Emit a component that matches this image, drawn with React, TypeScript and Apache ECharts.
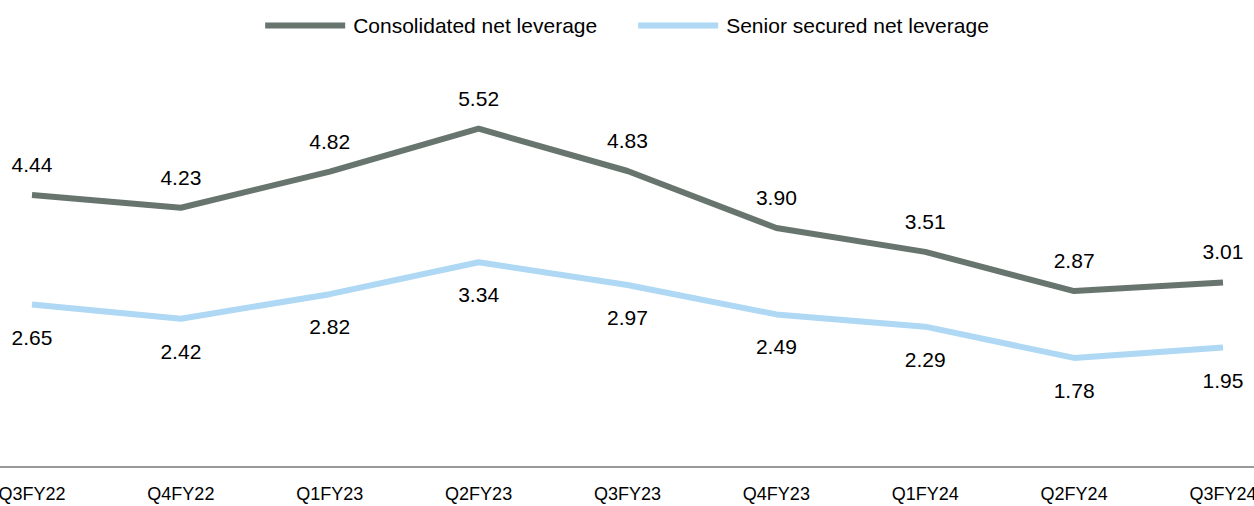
import React, { useEffect, useRef } from "react";
import * as echarts from "echarts";

const categories = ["Q3FY22", "Q4FY22", "Q1FY23", "Q2FY23", "Q3FY23", "Q4FY23", "Q1FY24", "Q2FY24", "Q3FY24"];
const consolidated = [4.44, 4.23, 4.82, 5.52, 4.83, 3.9, 3.51, 2.87, 3.01];
const seniorSecured = [2.65, 2.42, 2.82, 3.34, 2.97, 2.49, 2.29, 1.78, 1.95];

const FONT = "'Liberation Sans', Arial, sans-serif";

export default function App() {
  const ref = useRef<HTMLDivElement>(null);
  useEffect(() => {
    const chart = echarts.init(ref.current!, null, { renderer: "svg" });
    chart.setOption({
      animation: false,
      textStyle: { fontFamily: FONT },
      legend: {
        top: 10,
        left: "center",
        icon: "rect",
        itemWidth: 80,
        itemHeight: 6,
        itemGap: 41,
        textStyle: { fontSize: 21, color: "#000", fontFamily: FONT, padding: [0, 0, 0, 3] },
        data: ["Consolidated net leverage", "Senior secured net leverage"],
      },
      grid: {
        left: 32,
        right: 31,
        top: 38,
        bottom: 39,
        containLabel: false,
        outerBoundsMode: "none",
      },
      xAxis: {
        type: "category",
        data: categories,
        boundaryGap: false,
        axisLine: { show: false },
        axisTick: { show: false },
        axisLabel: { fontSize: 18, color: "#000", margin: 18, fontFamily: FONT },
      },
      yAxis: {
        type: "value",
        min: 0,
        max: 7,
        show: false,
        splitLine: { show: false },
      },
      graphic: [
        {
          type: "line",
          shape: { x1: 0, y1: 467, x2: 1254, y2: 467 },
          style: { stroke: "#999999", lineWidth: 2 },
        },
      ],
      series: [
        {
          name: "Consolidated net leverage",
          type: "line",
          data: consolidated,
          symbol: "circle",
          symbolSize: 0.1,
          showSymbol: true,
          lineStyle: { color: "#68756f", width: 6 },
          itemStyle: { color: "#68756f" },
          label: {
            show: true,
            position: "top",
            distance: 20,
            fontSize: 21,
            color: "#000",
            fontFamily: FONT,
            formatter: (p: any) => Number(p.value).toFixed(2),
          },
        },
        {
          name: "Senior secured net leverage",
          type: "line",
          data: seniorSecured,
          symbol: "circle",
          symbolSize: 0.1,
          showSymbol: true,
          lineStyle: { color: "#aed8f3", width: 6 },
          itemStyle: { color: "#aed8f3" },
          label: {
            show: true,
            position: "bottom",
            distance: 22,
            fontSize: 21,
            color: "#000",
            fontFamily: FONT,
            formatter: (p: any) => Number(p.value).toFixed(2),
          },
        },
      ],
    });
    return () => chart.dispose();
  }, []);
  return (
    <div
      ref={ref}
      style={{ position: "absolute", left: 0, top: 0, width: 1254, height: 506 }}
    />
  );
}
